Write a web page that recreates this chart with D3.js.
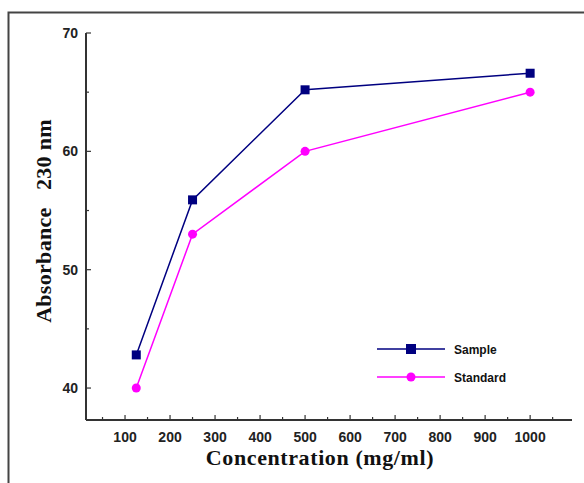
<!DOCTYPE html>
<html><head><meta charset="utf-8">
<script src="https://cdn.jsdelivr.net/npm/d3@7"></script>
<style>body{margin:0;background:#fff}svg{display:block}</style>
</head><body>
<script>
const concentrations = [125, 250, 500, 1000];
const sampleValues = [42.8, 55.9, 65.2, 66.6];
const standardValues = [40.0, 53.0, 60.0, 65.0];
const xTickValues = [100,200,300,400,500,600,700,800,900,1000];
const yTickValues = [40,50,60,70];
const seriesNames = ["Sample","Standard"];

const W=584,H=483;
const svg=d3.select("body").append("svg").attr("width",W).attr("height",H);
svg.append("rect").attr("x",8.5).attr("y",12.5).attr("width",620).attr("height",520)
  .attr("fill","none").attr("stroke","#444").attr("stroke-width",2);

const x=d3.scaleLinear().domain([13.3,1093]).range([86,572]);
const y=d3.scaleLinear().domain([37.3,70]).range([420,33]);

const axisColor="#333";
// x axis
const gx=svg.append("g").attr("transform","translate(0,420)");
gx.append("line").attr("x1",86).attr("x2",572).attr("stroke",axisColor).attr("stroke-width",2);
const xMinor=d3.range(50,1100,100);
gx.selectAll(".mj").data(xTickValues).join("line").attr("x1",d=>x(d)).attr("x2",d=>x(d)).attr("y1",0).attr("y2",-5).attr("stroke",axisColor).attr("stroke-width",1.2);
gx.selectAll(".mn").data(xMinor).join("line").attr("x1",d=>x(d)).attr("x2",d=>x(d)).attr("y1",0).attr("y2",-3).attr("stroke",axisColor).attr("stroke-width",1.2);
gx.selectAll("text").data(xTickValues).join("text").attr("x",d=>x(d)).attr("y",22).attr("text-anchor","middle")
  .attr("font-family","Liberation Sans, Arial, sans-serif").attr("font-weight","bold").attr("font-size",14).attr("fill","#222").text(d=>d);

// y axis
const gy=svg.append("g");
gy.append("line").attr("x1",86).attr("x2",86).attr("y1",y(70)).attr("y2",420).attr("stroke",axisColor).attr("stroke-width",2);
gy.selectAll(".mj").data(yTickValues).join("line").attr("x1",86).attr("x2",91).attr("y1",d=>y(d)).attr("y2",d=>y(d)).attr("stroke",axisColor).attr("stroke-width",1.2);
gy.selectAll(".mn").data([45,55,65]).join("line").attr("x1",86).attr("x2",89).attr("y1",d=>y(d)).attr("y2",d=>y(d)).attr("stroke",axisColor).attr("stroke-width",1.2);
gy.selectAll("text").data(yTickValues).join("text").attr("x",78).attr("y",d=>y(d)+5).attr("text-anchor","end")
  .attr("font-family","Liberation Sans, Arial, sans-serif").attr("font-weight","bold").attr("font-size",14).attr("fill","#222").text(d=>d);

// titles
svg.append("text").attr("x",320).attr("y",465).attr("text-anchor","middle")
  .attr("font-family","Liberation Serif, Times New Roman, serif").attr("font-weight","bold").attr("font-size",22)
  .attr("letter-spacing",0.6).attr("fill","#111").text("Concentration (mg/ml)");
svg.append("text").attr("transform","translate(51,221) rotate(-90)").attr("text-anchor","middle")
  .attr("font-family","Liberation Serif, Times New Roman, serif").attr("font-weight","bold").attr("font-size",22)
  .attr("letter-spacing",0.3).attr("fill","#111").style("white-space","pre").text("Absorbance   230 nm");

const series=[
  {name:seriesNames[0],vals:sampleValues,color:"#000080",shape:"square"},
  {name:seriesNames[1],vals:standardValues,color:"#ff00ff",shape:"circle"}
];
const line=d3.line().x(d=>x(d[0])).y(d=>y(d[1]));
series.forEach(s=>{
  const pts=concentrations.map((c,i)=>[c,s.vals[i]]);
  svg.append("path").attr("d",line(pts)).attr("fill","none").attr("stroke",s.color).attr("stroke-width",1.5);
  if(s.shape==="square"){
    svg.selectAll(null).data(pts).join("rect").attr("x",d=>x(d[0])-4.5).attr("y",d=>y(d[1])-4.5).attr("width",9).attr("height",9).attr("fill",s.color);
  } else {
    svg.selectAll(null).data(pts).join("circle").attr("cx",d=>x(d[0])).attr("cy",d=>y(d[1])).attr("r",4.5).attr("fill",s.color);
  }
});

// legend
series.forEach((s,i)=>{
  const ly=349+i*28;
  svg.append("line").attr("x1",377).attr("x2",445).attr("y1",ly).attr("y2",ly).attr("stroke",s.color).attr("stroke-width",1.5);
  if(s.shape==="square") svg.append("rect").attr("x",411-5).attr("y",ly-5).attr("width",10).attr("height",10).attr("fill",s.color);
  else svg.append("circle").attr("cx",411).attr("cy",ly).attr("r",4.5).attr("fill",s.color);
  svg.append("text").attr("x",454).attr("y",ly+4.5).attr("font-family","Liberation Sans, Arial, sans-serif")
    .attr("font-weight","bold").attr("font-size",12).attr("fill","#111").text(s.name);
});
</script>
</body></html>
